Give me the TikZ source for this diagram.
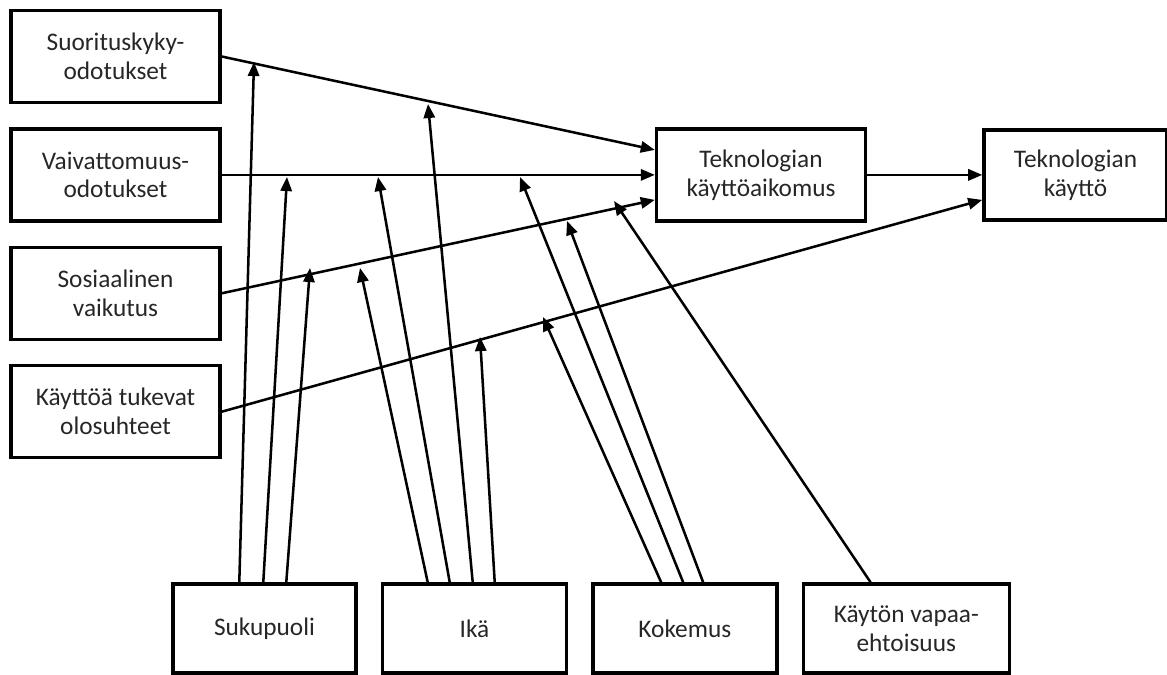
\documentclass[tikz,border=0pt]{standalone}
\usepackage{fontspec}
\setmainfont{Carlito}
\usetikzlibrary{arrows.meta,positioning,calc}

\begin{document}
\begin{tikzpicture}[
  x=0.025cm, y=-0.025cm,
  node distance=0.575cm,
  factor/.style={draw=black, line width=2.4pt, align=center, inner sep=2pt,
    font=\fontsize{18}{20.5}\selectfont, text=black!85,
    minimum width=5.225cm, minimum height=2.3cm},
  moder/.style={factor, minimum width=4.6cm, minimum height=2.225cm},
  arr/.style={-{Triangle[length=10pt,width=8pt]}, line width=1.8pt}
]
\useasboundingbox (0,0) rectangle (1167,675);
% determinants
\node[factor] (suo) at (115.5,56.5) {Suorituskyky-\\odotukset};
\node[factor, below=of suo] (vai) {Vaivattomuus-\\odotukset};
\node[factor, below=of vai] (sos) {Sosiaalinen\\vaikutus};
\node[factor, below=of sos] (olo) {Käyttöä tukevat\\olosuhteet};
% intention and use
\node[factor, right=10.825cm of vai] (aik) {Teknologian\\käyttöaikomus};
\node[factor, minimum width=4.575cm, minimum height=2.25cm, right=2.875cm of aik] (kay) {Teknologian\\käyttö};
% moderators
\node[moder, minimum width=4.575cm] (suk) at (264.5,628.5) {Sukupuoli};
\node[moder, right=of suk] (ika) {Ikä};
\node[moder, right=of ika] (kok) {Kokemus};
\node[moder, minimum width=5.15cm, right=of kok] (vap) {Käytön vapaa-\\ehtoisuus};
% main paths
\draw[arr] (suo.east) -- ($(aik.west)+(0,-25)$);
\draw[arr] (vai) -- (aik);
\draw[arr] (sos.east) -- ($(aik.west)+(0,25)$);
\draw[arr] (olo.east) -- ($(kay.west)+(0,25)$);
\draw[arr] (aik) -- (kay);
% moderator tips
\coordinate (t1) at (254,62);
\coordinate (t2) at (287,177);
\coordinate (t3) at (310,268);
\coordinate (t4) at (378,177);
\coordinate (t5) at (428,104);
\coordinate (t6) at (360,268);
\coordinate (t7) at (480,337);
\coordinate (t8) at (520,177);
\coordinate (t9) at (543,317);
\coordinate (t10) at (567,221);
\coordinate (t11) at (614,201);
\draw[arr] ($(suk.north west)+(68,0)$) -- (t1);
\draw[arr] ($(suk.north west)+(92,0)$) -- (t2);
\draw[arr] ($(suk.north west)+(115,0)$) -- (t3);
\draw[arr] ($(ika.north west)+(47,0)$) -- (t6);
\draw[arr] ($(ika.north west)+(69,0)$) -- (t4);
\draw[arr] ($(ika.north west)+(92,0)$) -- (t5);
\draw[arr] ($(ika.north west)+(114,0)$) -- (t7);
\draw[arr] ($(kok.north west)+(70,0)$) -- (t9);
\draw[arr] ($(kok.north west)+(92,0)$) -- (t8);
\draw[arr] ($(kok.north west)+(112,0)$) -- (t10);
\draw[arr] ($(vap.north west)+(69,0)$) -- (t11);
\end{tikzpicture}
\end{document}
